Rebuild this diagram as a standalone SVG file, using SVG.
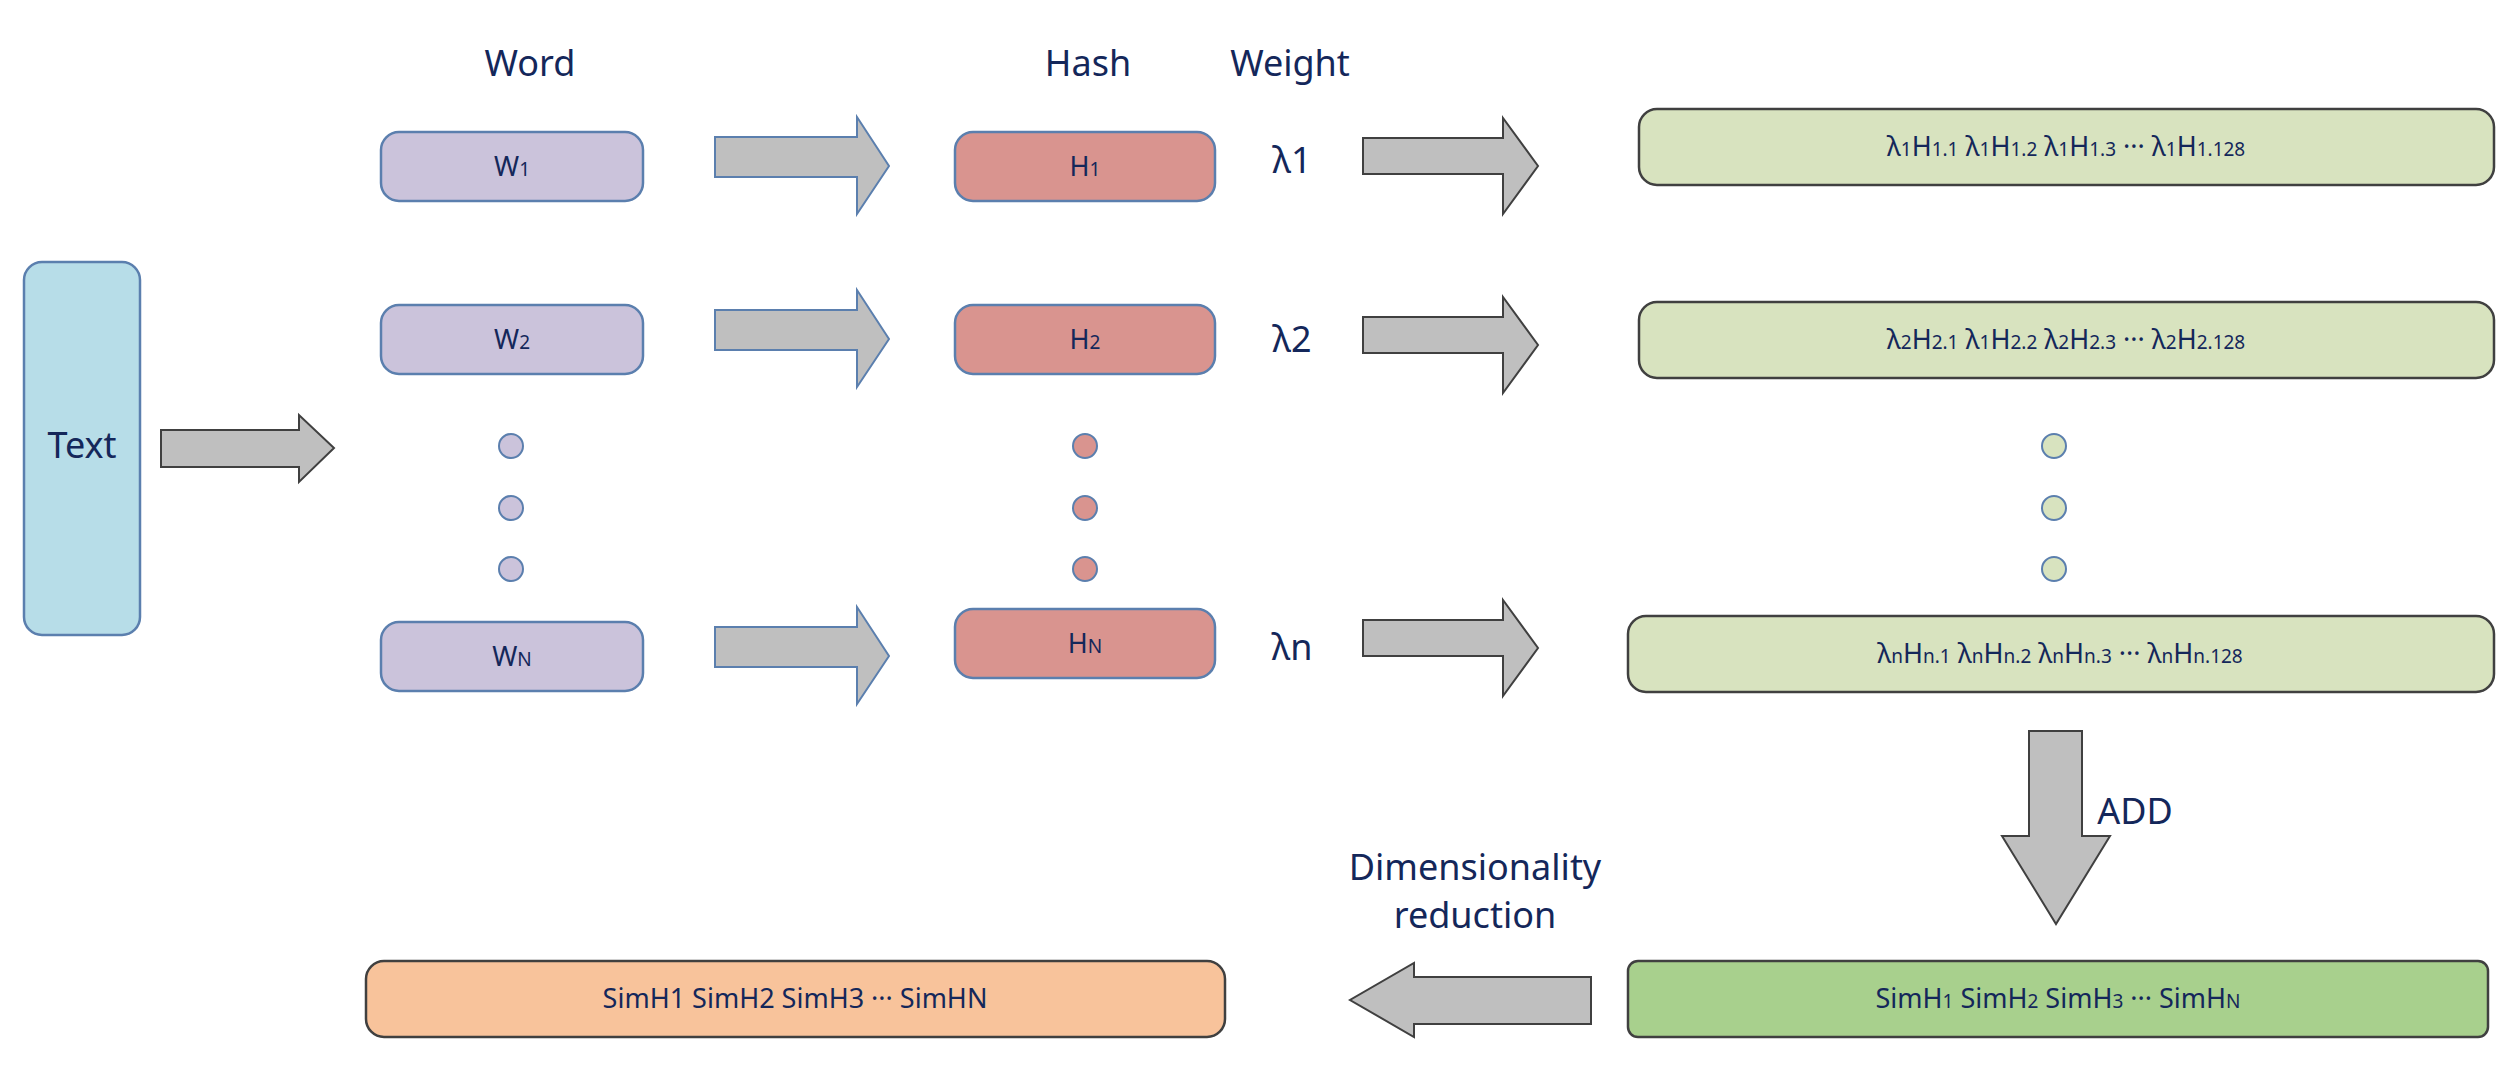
<svg xmlns="http://www.w3.org/2000/svg" width="2519" height="1069" viewBox="0 0 2519 1069">
<style>
text{font-family:"Noto Sans","Liberation Sans",sans-serif;fill:#14275a;text-anchor:middle}
.h{font-size:36px}
.t{font-size:27px}
.s{font-size:19px}
.w{fill:#cbc3db;stroke:#5b7fae;stroke-width:2.5}
.hh{fill:#d9948f;stroke:#5b7fae;stroke-width:2.5}
.g{fill:#d8e3bf;stroke:#404040;stroke-width:2.5}
.a{fill:#bfbfbf;stroke:#404040;stroke-width:2}
.ab{fill:#bfbfbf;stroke:#5b7fae;stroke-width:2}
</style>
<text class="h" x="530" y="76">Word</text>
<text class="h" x="1088" y="76">Hash</text>
<text class="h" x="1290" y="76">Weight</text>
<g id="text"><rect x="24" y="262" width="116" height="373" rx="18" fill="#b7dde8" stroke="#5b7fae" stroke-width="2.5"/><text class="h" x="82" y="458">Text</text></g>
<g id="w1"><rect class="w" x="381" y="132" width="262" height="69" rx="18"/><text class="t" x="512" y="176">W<tspan class="s">1</tspan></text></g>
<g id="w2"><rect class="w" x="381" y="305" width="262" height="69" rx="18"/><text class="t" x="512" y="349">W<tspan class="s">2</tspan></text></g>
<g id="wn"><rect class="w" x="381" y="622" width="262" height="69" rx="18"/><text class="t" x="512" y="666">W<tspan class="s">N</tspan></text></g>
<g id="wdots" fill="#cbc3db" stroke="#5b7fae" stroke-width="2"><circle cx="511" cy="446" r="12"/><circle cx="511" cy="508" r="12"/><circle cx="511" cy="569" r="12"/></g>
<g id="h1"><rect class="hh" x="955" y="132" width="260" height="69" rx="18"/><text class="t" x="1085" y="176">H<tspan class="s">1</tspan></text></g>
<g id="h2"><rect class="hh" x="955" y="305" width="260" height="69" rx="18"/><text class="t" x="1085" y="349">H<tspan class="s">2</tspan></text></g>
<g id="hn"><rect class="hh" x="955" y="609" width="260" height="69" rx="18"/><text class="t" x="1085" y="653">H<tspan class="s">N</tspan></text></g>
<g id="hdots" fill="#d9948f" stroke="#5b7fae" stroke-width="2"><circle cx="1085" cy="446" r="12"/><circle cx="1085" cy="508" r="12"/><circle cx="1085" cy="569" r="12"/></g>
<g id="weights"><text class="h" x="1292" y="173">λ1</text><text class="h" x="1292" y="352">λ2</text><text class="h" x="1292" y="660">λn</text></g>
<g id="v1"><rect class="g" x="1639" y="109" width="855" height="76" rx="18"/><text class="t" x="2066" y="156">λ<tspan class="s">1</tspan>H<tspan class="s">1.1</tspan> λ<tspan class="s">1</tspan>H<tspan class="s">1.2</tspan> λ<tspan class="s">1</tspan>H<tspan class="s">1.3</tspan> ··· λ<tspan class="s">1</tspan>H<tspan class="s">1.128</tspan></text></g>
<g id="v2"><rect class="g" x="1639" y="302" width="855" height="76" rx="18"/><text class="t" x="2066" y="349">λ<tspan class="s">2</tspan>H<tspan class="s">2.1</tspan> λ<tspan class="s">1</tspan>H<tspan class="s">2.2</tspan> λ<tspan class="s">2</tspan>H<tspan class="s">2.3</tspan> ··· λ<tspan class="s">2</tspan>H<tspan class="s">2.128</tspan></text></g>
<g id="vn"><rect class="g" x="1628" y="616" width="866" height="76" rx="18"/><text class="t" x="2060" y="663">λ<tspan class="s">n</tspan>H<tspan class="s">n.1</tspan> λ<tspan class="s">n</tspan>H<tspan class="s">n.2</tspan> λ<tspan class="s">n</tspan>H<tspan class="s">n.3</tspan> ··· λ<tspan class="s">n</tspan>H<tspan class="s">n.128</tspan></text></g>
<g id="vdots" fill="#d8e3bf" stroke="#5b7fae" stroke-width="2"><circle cx="2054" cy="446" r="12"/><circle cx="2054" cy="508" r="12"/><circle cx="2054" cy="569" r="12"/></g>
<g id="sum"><rect x="1628" y="961" width="860" height="76" rx="10" fill="#a8d08d" stroke="#404040" stroke-width="2.5"/><text class="t" x="2058" y="1008">SimH<tspan class="s">1</tspan>    SimH<tspan class="s">2</tspan>   SimH<tspan class="s">3</tspan>    ···    SimH<tspan class="s">N</tspan></text></g>
<g id="result"><rect x="366" y="961" width="859" height="76" rx="18" fill="#f8c39b" stroke="#404040" stroke-width="2.5"/><text class="t" x="795" y="1008">SimH1    SimH2    SimH3    ···    SimHN</text></g>
<g id="connectors">
<path class="a" d="M161 430H299V415L334 448L299 482V467H161Z"/>
<path class="ab" d="M715 137H857V117L889 166L857 214V177H715Z"/>
<path class="ab" d="M715 310H857V290L889 339L857 387V350H715Z"/>
<path class="ab" d="M715 627H857V607L889 656L857 704V667H715Z"/>
<path class="a" d="M1363 138H1503V118L1538 166L1503 214V174H1363Z"/>
<path class="a" d="M1363 317H1503V297L1538 345L1503 393V353H1363Z"/>
<path class="a" d="M1363 620H1503V600L1538 648L1503 696V656H1363Z"/>
<path class="a" d="M2029 731H2082V836H2110L2056 924L2002 836H2029Z"/>
<path class="a" d="M1591 977H1414V963L1350 1000L1414 1037V1024H1591Z"/>
<text class="h" x="2135" y="824">ADD</text>
<text class="h" x="1475" y="880">Dimensionality</text>
<text class="h" x="1475" y="928">reduction</text>
</g>
</svg>
